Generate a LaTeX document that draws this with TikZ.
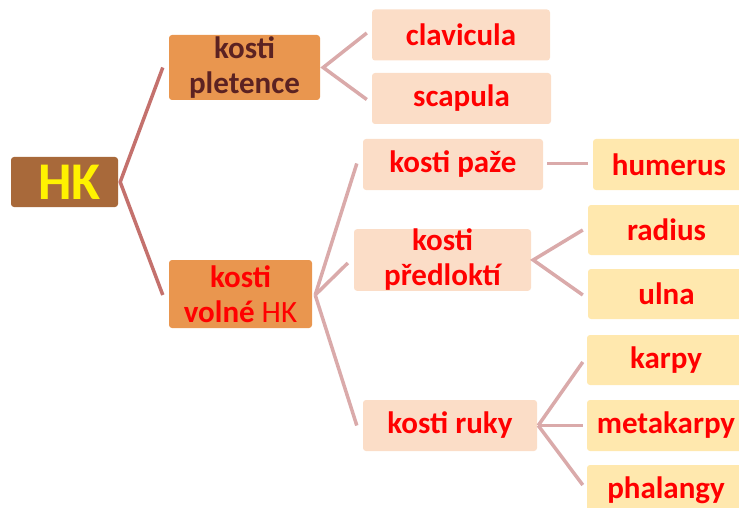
\documentclass[tikz,border=0pt]{standalone}
\usepackage{fontspec}
\setmainfont{Carlito}
\usepackage{tikz}
\usetikzlibrary{calc}
\definecolor{rootbrown}{HTML}{A8693A}
\definecolor{lvlorange}{HTML}{E9964F}
\definecolor{lvlpeach}{HTML}{FBDDC7}
\definecolor{lvlyellow}{HTML}{FFE8AE}
\definecolor{darktext}{HTML}{5B2222}
\definecolor{rootline}{HTML}{C4716D}
\definecolor{subline}{HTML}{DAAAAA}
\tikzstyle{box}=[rectangle, rounded corners=3pt, inner sep=0pt, align=center,% plain filled box
font=\fontsize{31}{35}\selectfont\bfseries, text=red]
\tikzstyle{rootbox}=[box, fill=rootbrown, text=yellow, font=\fontsize{53}{58}\selectfont\bfseries]
\tikzstyle{midbox}=[box, fill=lvlorange]
\tikzstyle{subbox}=[box, fill=lvlpeach]
\tikzstyle{leafbox}=[box, fill=lvlyellow]
\tikzstyle{branch}=[line width=3.5pt, draw=rootline, line join=miter]
\tikzstyle{twig}=[line width=3.5pt, draw=subline, line join=miter]

\begin{document}
\begin{tikzpicture}[x=1pt,y=-1pt]
\useasboundingbox (0,0) rectangle (739,508);
\node[rootbox, minimum width=107pt, minimum height=50pt] (hk) at (64.5,182) {\hspace*{10pt}HK};
\node[midbox, text=darktext, minimum width=151pt, minimum height=65pt] (kp) at (244.5,67.5) {kosti\\pletence};
\node[midbox, minimum width=143pt, minimum height=68pt] (kv) at (240.5,294) {kosti\\volné {\mdseries HK}};
\node[subbox, minimum width=178pt, minimum height=51pt] (clav) at (461,35) {clavicula};
\node[subbox, minimum width=179pt, minimum height=51pt] (scap) at (461.5,98.5) {scapula};
\node[subbox, minimum width=180pt, minimum height=51pt] (paze) at (453,164.5) {kosti paže};
\node[subbox, minimum width=177pt, minimum height=60pt] (pred) at (442.5,260) {kosti\\předloktí};
\node[subbox, minimum width=174pt, minimum height=51pt] (ruky) at (450,425.5) {kosti ruky};
\node[leafbox, minimum width=152pt, minimum height=51pt] (hum) at (669,164.5) {humerus};
\node[leafbox, minimum width=157pt, minimum height=50pt] (rad) at (666.5,230) {radius};
\node[leafbox, minimum width=157pt, minimum height=50pt] (ulna) at (666.5,294) {ulna};
\node[leafbox, minimum width=158pt, minimum height=50pt] (karpy) at (666,360) {karpy};
\node[leafbox, minimum width=158pt, minimum height=51pt] (meta) at (666,425.5) {metakarpy};
\node[leafbox, minimum width=158pt, minimum height=50pt] (phal) at (666,490) {phalangy};
\coordinate (hkv) at ($(hk.east)+(2,0)$);
\coordinate (kpv) at ($(kp.east)+(3,0)$);
\coordinate (kvv) at ($(kv.east)+(3,1)$);
\coordinate (predv) at ($(pred.east)+(2,0)$);
\coordinate (rukyv) at ($(ruky.east)+(1,0)$);
\draw[branch] ($(kp.west)+(-6,0)$) -- (hkv) -- ($(kv.west)+(-6,1)$);
\draw[twig] ($(clav.west)+(-5,-2)$) -- (kpv) -- ($(scap.west)+(-5,1)$);
\draw[twig] ($(paze.west)+(-6,-1)$) -- (kvv);
\draw[twig] ($(pred.west)+(-6,3)$) -- (kvv);
\draw[twig] ($(ruky.west)+(-6,0)$) -- (kvv);
\draw[twig] ($(paze.east)+(4,-1)$) -- ($(hum.west)+(-5,-1)$);
\draw[twig] ($(rad.west)+(-5,0)$) -- (predv) -- ($(ulna.west)+(-5,1)$);
\draw[twig] ($(karpy.west)+(-4,2)$) -- (rukyv);
\draw[twig] ($(meta.west)+(-4,0)$) -- (rukyv);
\draw[twig] ($(phal.west)+(-4,-5)$) -- (rukyv);
\end{tikzpicture}
\end{document}
